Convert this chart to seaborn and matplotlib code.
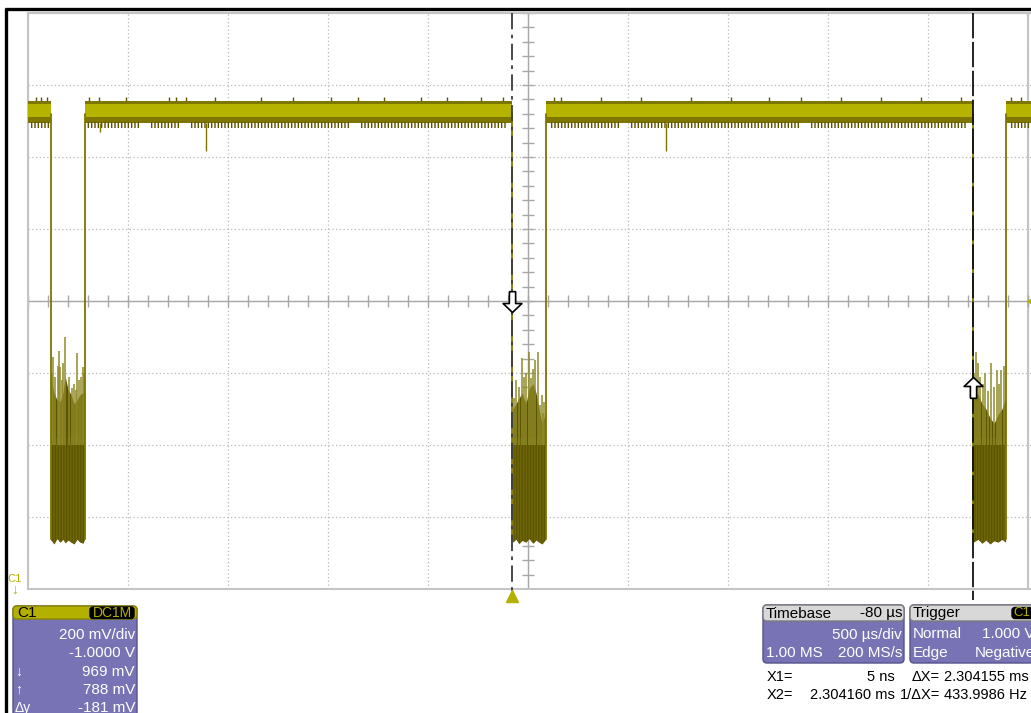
import numpy as np
import pandas as pd
import matplotlib
matplotlib.use("Agg")
import matplotlib.pyplot as plt
from matplotlib.path import Path
from matplotlib.patches import FancyBboxPatch
import seaborn as sns

sns.set_style("white")
plt.rcParams["font.family"] = ["Liberation Sans", "DejaVu Sans"]
plt.rcParams["hatch.linewidth"] = 1.0

# ================= SCOPE SETTINGS =================

ms_per_div = 0.5
volts_per_div = 0.2
center_v = 1.0          # offset -1.0000 V
delay_ms = 0.08         # timebase -80 us
x1_ms = 0.000005
x2_ms = 2.304160
cursor_down_v = 0.969
cursor_up_v = 0.788
trigger_level_v = 1.0

# ================= TRACE DATA (ms, V) =================

high_band = (1.494, 1.556)
high_core = (1.511, 1.547)
comb_floor = 1.48
high_spans = [(-2.42, -2.304), (-2.135, 0.0), (0.17, 2.304), (2.47, 2.6)]
comb_spans = [(-2.405, -2.315), (-2.125, -1.855), (-1.805, -1.655), (-1.605, -0.805),
              (-0.755, -0.03), (0.185, 0.545), (0.595, 1.445), (1.495, 2.27), (2.485, 2.6)]

up_spike_t = [-2.38, -2.355, -2.325, -2.115, -2.065, -1.93, -1.715, -1.68, -1.63, -1.485,
              -1.255, -1.095, -0.905, -0.77, -0.64, -0.455, -0.325, -0.155, -0.045, 0.21,
              0.245, 0.445, 0.645, 0.895, 1.095, 1.285, 1.445, 1.645, 1.845, 2.045, 2.245,
              2.495, 2.545]
up_spike_top = 1.566
dip_t = [-1.53, -2.06, 0.77]
dip_v = [1.417, 1.47, 1.417]

edge_t = [-2.304, -2.135, 0.0, 0.17, 2.304, 2.47]
edge_low = [0.34, 0.34, 0.34, 0.34, 0.34, 0.34]
edge_high = [1.52, 1.52, 1.52, 1.52, 1.52, 1.52]

burst1_t = [-2.305, -2.29, -2.275, -2.26, -2.245, -2.234, -2.22, -2.205, -2.19, -2.175, -2.16, -2.145, -2.136]
burst1_top = [0.78, 0.745, 0.725, 0.72, 0.745, 0.79, 0.755, 0.74, 0.715, 0.725, 0.74, 0.745, 0.745]
burst1_bot = [0.336, 0.325, 0.34, 0.33, 0.338, 0.328, 0.336, 0.33, 0.325, 0.338, 0.33, 0.327, 0.34]
burst1_spk_t = [-2.301, -2.295, -2.285, -2.272, -2.267, -2.26, -2.252, -2.245, -2.234, -2.215,
                -2.202, -2.19, -2.18, -2.175, -2.165, -2.155, -2.147, -2.14]
burst1_spk_v = [0.80, 0.844, 0.79, 0.82, 0.861, 0.817, 0.78, 0.828, 0.90, 0.79, 0.758, 0.77,
                0.753, 0.856, 0.781, 0.79, 0.817, 0.80]

burst2_t = [0.003, 0.02, 0.035, 0.05, 0.07, 0.085, 0.105, 0.12, 0.135, 0.15, 0.168]
burst2_top = [0.70, 0.715, 0.73, 0.745, 0.715, 0.755, 0.77, 0.745, 0.70, 0.66, 0.69]
burst2_bot = [0.33, 0.338, 0.326, 0.335, 0.33, 0.34, 0.327, 0.336, 0.33, 0.325, 0.338]
burst2_spk_t = [0.01, 0.02, 0.035, 0.05, 0.06, 0.07, 0.085, 0.095, 0.105, 0.115, 0.13, 0.14,
                0.148, 0.155, 0.162]
burst2_spk_v = [0.731, 0.78, 0.761, 0.842, 0.79, 0.80, 0.858, 0.786, 0.81, 0.836, 0.858,
                0.711, 0.74, 0.689, 0.72]

burst3_t = [2.306, 2.33, 2.35, 2.37, 2.39, 2.41, 2.43, 2.45, 2.468]
burst3_top = [0.755, 0.74, 0.715, 0.70, 0.675, 0.66, 0.685, 0.70, 0.73]
burst3_bot = [0.33, 0.338, 0.327, 0.336, 0.325, 0.334, 0.33, 0.338, 0.33]
burst3_spk_t = [2.312, 2.32, 2.33, 2.342, 2.355, 2.365, 2.38, 2.395, 2.41, 2.425, 2.435,
                2.445, 2.46]
burst3_spk_v = [0.80, 0.858, 0.828, 0.79, 0.77, 0.80, 0.75, 0.828, 0.761, 0.808, 0.77,
                0.808, 0.819]

bursts = [
    (burst1_t, burst1_top, burst1_bot, burst1_spk_t, burst1_spk_v),
    (burst2_t, burst2_top, burst2_bot, burst2_spk_t, burst2_spk_v),
    (burst3_t, burst3_top, burst3_bot, burst3_spk_t, burst3_spk_v),
]

# ================= COLOURS =================

band_dark = "#7f7600"
band_bright = "#b6b200"
comb_color = "#5c5300"
burst_dark = "#5d5400"
burst_light = "#6f670a"
spike_color = "#8f8a28"
grid_color = "#b8b8b8"
axis_gray = "#a8a8a8"
ch_yellow = "#b4b000"
panel_purple = "#7873b4"
panel_edge = "#56528c"
header_gray = "#d8d8d8"

# ================= FIGURE =================

W, H = 1031, 713
fig = plt.figure(figsize=(W / 100, H / 100), dpi=100)
fig.patch.set_facecolor("white")

ui = fig.add_axes([0, 0, 1, 1], zorder=0)
ui.set_xlim(0, W)
ui.set_ylim(H, 0)
ui.axis("off")

x0_ms = delay_ms - 5 * ms_per_div
x_end_ms = delay_ms + 5 * ms_per_div
y0_v = center_v - 4 * volts_per_div
y1_v = center_v + 4 * volts_per_div

ax = fig.add_axes([28 / W, 1 - 589 / H, (W - 28) / W, 576 / H], zorder=1)
ax.set_xlim(x0_ms, x0_ms + (W - 28) / 100 * ms_per_div)
ax.set_ylim(y0_v, y1_v)
ax.set_facecolor("white")

# graticule
ax.set_xticks(x0_ms + np.arange(11) * ms_per_div)
ax.set_yticks(y0_v + np.arange(9) * volts_per_div)
ax.grid(True, color=grid_color, linestyle=(0, (1, 2)), lw=0.9)
ax.tick_params(length=0, labelbottom=False, labelleft=False)
for side in ["left", "top", "bottom"]:
    ax.spines[side].set_color("#c4c4c4")
    ax.spines[side].set_linewidth(1.5)
ax.spines["right"].set_visible(False)
ax.axvline(x_end_ms, color="#c4c4c4", lw=1.5, zorder=1)

ax.axhline(center_v, color=axis_gray, lw=1.0, zorder=1)
ax.axvline(delay_ms, color=axis_gray, lw=1.0, zorder=1)
ax.plot(np.arange(x0_ms, x_end_ms + 0.01, ms_per_div / 5), np.full(51, center_v),
        ls="none", marker="|", ms=8, mew=1.0, color=axis_gray, zorder=1)
ax.plot(np.full(41, delay_ms), np.arange(y0_v, y1_v + 0.001, volts_per_div / 5),
        ls="none", marker="_", ms=8, mew=1.0, color=axis_gray, zorder=1)

# high level band
for a, b in high_spans:
    ax.fill_between([a, b], high_band[0], high_band[1], color=band_dark, lw=0, zorder=3)
    ax.fill_between([a, b], high_core[0], high_core[1], color=band_bright, lw=0, zorder=3)
for a, b in comb_spans:
    ax.fill_between([a, b], comb_floor, high_band[0] + 0.003, facecolor="none",
                    edgecolor=comb_color, hatch="|||||", lw=0, zorder=3)
ax.vlines(up_spike_t, high_band[1], up_spike_top, color=comb_color, lw=1, zorder=3)
ax.vlines(dip_t, dip_v, high_band[0], color=band_dark, lw=1, zorder=3)

# low level bursts
for bt, btop, bbot, st, sv in bursts:
    ax.fill_between(bt, bbot, btop, color=burst_dark, lw=0, zorder=3)
    ax.fill_between(bt, bbot, np.full(len(bt), 0.62), facecolor="none",
                    edgecolor=burst_light, hatch="||||||", lw=0, zorder=3)
    ax.vlines(st, 0.60, sv, color=spike_color, lw=1.1, zorder=3)

# transitions
edges = pd.DataFrame({
    "t": np.repeat(edge_t, 2),
    "v": np.ravel(np.column_stack([edge_low, edge_high])),
    "edge": np.repeat(np.arange(len(edge_t)), 2),
})
sns.lineplot(data=edges, x="t", y="v", units="edge", estimator=None, sort=False,
             color="#7d7500", lw=1.3, ax=ax, zorder=4)
ax.set_xlabel("")
ax.set_ylabel("")

# cursors
ax.plot([x1_ms, x1_ms], [y1_v, y0_v - 0.005], color="#3a3a3a", lw=1.3,
        ls=(0, (9, 3, 2, 3)), zorder=5, clip_on=False)
ax.plot([x2_ms, x2_ms], [y1_v, y0_v - 0.03], color="#111111", lw=1.3,
        ls=(0, (14, 2)), zorder=5, clip_on=False)

down_arrow = Path([(-0.15, 1.0), (0.15, 1.0), (0.15, 0.43), (0.45, 0.43), (0, 0),
                   (-0.45, 0.43), (-0.15, 0.43), (-0.15, 1.0)])
up_arrow = Path([(x, -y) for x, y in down_arrow.vertices])
ax.plot([x1_ms], [cursor_down_v], marker=down_arrow, ms=30, mfc="white", mec="black",
        mew=1.2, ls="none", zorder=6)
ax.plot([x2_ms], [cursor_up_v], marker=up_arrow, ms=30, mfc="white", mec="black",
        mew=1.2, ls="none", zorder=6)

# trigger markers
ax.plot([0.0], [y0_v - 0.02], marker="^", ms=8, color=ch_yellow, ls="none",
        clip_on=False, zorder=6)
ax.plot([x_end_ms + 0.012], [trigger_level_v], marker="<", ms=5, color=ch_yellow,
        ls="none", clip_on=False, zorder=6)

# ================= FRAME + READOUT PANELS =================

ui.plot([6, 6], [8, H + 5], color="black", lw=2.4, solid_capstyle="butt")
ui.plot([5, W + 5], [8.5, 8.5], color="black", lw=2.4, solid_capstyle="butt")

ui.text(15, 579, "C1", color=ch_yellow, fontsize=8, ha="center", va="center")
ui.text(15, 590, "\u2193", color=ch_yellow, fontsize=10, fontweight="bold",
        ha="center", va="center")

FS = 11
FS_R = 10.5


def box(x, y, w, h, fc, ec=panel_edge, r=4, z=2):
    ui.add_patch(FancyBboxPatch((x, y), w, h, boxstyle=f"round,pad=0,rounding_size={r}",
                                fc=fc, ec=ec, lw=1.0, zorder=z))


# channel panel
box(13, 606, 124, 115, panel_purple)
box(13, 606, 124, 13, ch_yellow, ec="#8a8600", z=3)
ui.text(17, 613, "C1", fontsize=FS, color="black", va="center", zorder=4)
box(90, 607, 44, 11.5, "black", ec="black", r=3, z=4)
ui.text(112, 613, "DC1M", fontsize=10, color=ch_yellow, ha="center", va="center", zorder=5)
ch_right = ["200 mV/div", "-1.0000 V", "969 mV", "788 mV", "-181 mV"]
ch_left = ["", "", "\u2193", "\u2191", "\u0394y"]
for i, (r, l) in enumerate(zip(ch_right, ch_left)):
    yy = 635 + i * 18.3
    ui.text(135, yy, r, fontsize=FS, color="white", ha="right", va="center", zorder=4)
    if l:
        ui.text(15, yy, l, fontsize=FS - 1, color="white", ha="left", va="center", zorder=4)

# timebase panel
box(763, 605, 141, 58, panel_purple)
box(763, 605, 141, 16, header_gray, ec="#7a7a7a", z=3)
ui.text(766, 613.5, "Timebase", fontsize=FS, color="black", va="center", zorder=4)
ui.text(902, 613.5, "-80 \u00b5s", fontsize=FS, color="black", ha="right", va="center", zorder=4)
ui.text(902, 634.5, "500 \u00b5s/div", fontsize=FS, color="white", ha="right", va="center", zorder=4)
ui.text(766, 653, "1.00 MS", fontsize=FS, color="white", va="center", zorder=4)
ui.text(902, 653, "200 MS/s", fontsize=FS, color="white", ha="right", va="center", zorder=4)

# trigger panel
box(910, 605, 140, 58, panel_purple)
box(910, 605, 140, 16, header_gray, ec="#7a7a7a", z=3)
ui.text(913, 613.5, "Trigger", fontsize=FS, color="black", va="center", zorder=4)
box(1012, 607.5, 22, 11, "black", ec="black", r=3, z=4)
ui.text(1022, 613.5, "C1", fontsize=9.5, color=ch_yellow, ha="center", va="center", zorder=5)
ui.text(913, 634.5, "Normal", fontsize=FS, color="white", va="center", zorder=4)
ui.text(1035, 634.5, "1.000 V", fontsize=FS, color="white", ha="right", va="center", zorder=4)
ui.text(913, 653, "Edge", fontsize=FS, color="white", va="center", zorder=4)
ui.text(1035, 653, "Negative", fontsize=FS, color="white", ha="right", va="center", zorder=4)

# cursor readouts
ui.text(767, 677, "X1=", fontsize=FS_R, color="black", va="center")
ui.text(895, 677, "5 ns", fontsize=FS_R, color="black", ha="right", va="center")
ui.text(940, 677, "\u0394X=", fontsize=FS_R, color="black", ha="right", va="center")
ui.text(944, 677, "2.304155 ms", fontsize=FS_R, color="black", va="center")
ui.text(767, 695, "X2=", fontsize=FS_R, color="black", va="center")
ui.text(895, 695, "2.304160 ms", fontsize=FS_R, color="black", ha="right", va="center")
ui.text(940, 695, "1/\u0394X=", fontsize=FS_R, color="black", ha="right", va="center")
ui.text(944, 695, "433.9986 Hz", fontsize=FS_R, color="black", va="center")

fig.savefig("out.png", dpi=100)
